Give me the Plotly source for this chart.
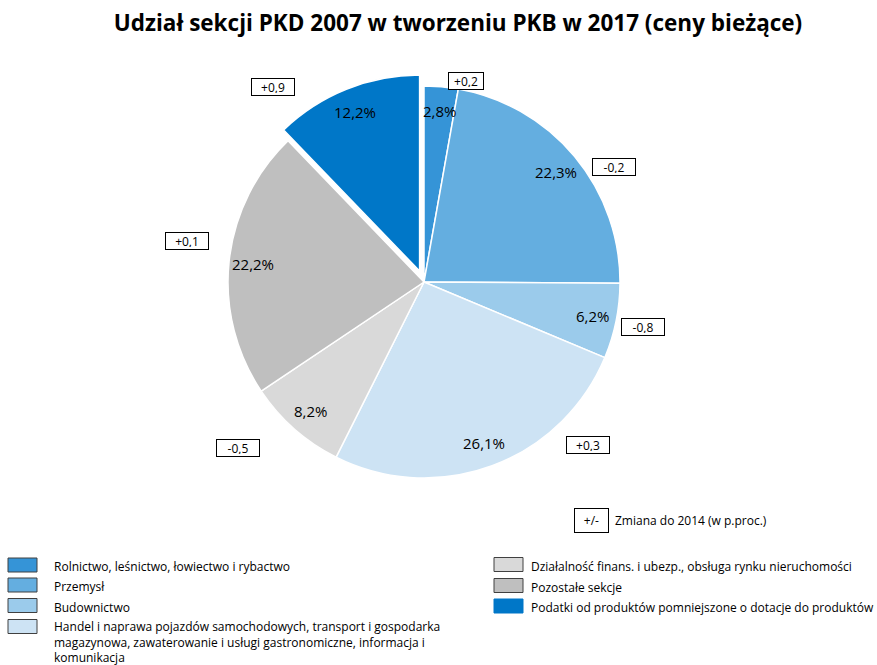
import math
import plotly.graph_objects as go

categories = [
    "Rolnictwo, leśnictwo, łowiectwo i rybactwo",
    "Przemysł",
    "Budownictwo",
    "Handel i naprawa pojazdów samochodowych, transport i gospodarka<br>magazynowa, zawaterowanie i usługi gastronomiczne, informacja i<br>komunikacja",
    "Działalność finans. i ubezp., obsługa rynku nieruchomości",
    "Pozostałe sekcje",
    "Podatki od produktów pomniejszone o dotacje do produktów",
]
shares = [2.8, 22.3, 6.2, 26.1, 8.2, 22.2, 12.2]
changes = ["+0,2", "-0,2", "-0,8", "+0,3", "-0,5", "+0,1", "+0,9"]
colors = ["#3594d7", "#64aee0", "#9bcbeb", "#cde3f4", "#d9d9d9", "#bfbfbf", "#0077c8"]
pulls = [0, 0, 0, 0, 0, 0, 0.06]

W, H = 877, 665
FONT = "Open Sans"

# pie geometry (pixels from top-left)
CX, CY, R = 424, 282, 196
RD = R * (1 + max(pulls))

labels_txt = [f"{v:.1f}%".replace(".", ",") for v in shares]

fig = go.Figure(go.Pie(
    values=shares,
    labels=categories,
    textinfo="none",
    marker=dict(colors=colors, line=dict(color="white", width=1.5)),
    sort=False,
    direction="clockwise",
    rotation=0,
    pull=pulls,
    showlegend=False,
    hoverinfo="skip",
    domain=dict(x=[(CX - RD) / W, (CX + RD) / W], y=[1 - (CY + RD) / H, 1 - (CY - RD) / H]),
))

shapes = []
annotations = []

# percentage labels, placed near the outer end of each slice
total = sum(shares)
cum = 0.0
for v, txt, p in zip(shares, labels_txt, pulls):
    mid = (cum + v / 2) / total * 2 * math.pi
    cum += v
    rr = R * 0.875 + p * R
    lx = CX + rr * math.sin(mid)
    ly = CY - rr * math.cos(mid)
    annotations.append(dict(
        x=lx / W, y=1 - ly / H, xref="paper", yref="paper", text=txt, showarrow=False,
        font=dict(family=FONT, size=15, color="#000"), xanchor="center", yanchor="middle",
    ))

# change boxes
change_pos = [(465.5, 81), (614, 167), (642.5, 327.5), (587.5, 445), (238, 448), (186.5, 241), (272.5, 87.5)]
change_w = [30, 38, 38, 38, 38, 38, 38]
for (cx, cy), txt, bw in zip(change_pos, changes, change_w):
    annotations.append(dict(
        x=cx / W, y=1 - cy / H, xref="paper", yref="paper", text=txt, showarrow=False,
        font=dict(family=FONT, size=12, color="#000"),
        bordercolor="#000", borderwidth=1, borderpad=2, bgcolor="white",
        width=bw, height=12, xanchor="center", yanchor="middle",
    ))

# +/- key
annotations.append(dict(
    x=591 / W, y=1 - 520 / H, xref="paper", yref="paper", text="+/-", showarrow=False,
    font=dict(family=FONT, size=12, color="#000"),
    bordercolor="#000", borderwidth=1, borderpad=2, width=29, height=19,
    xanchor="center", yanchor="middle",
))
annotations.append(dict(
    x=613 / W, y=1 - 520 / H, xref="paper", yref="paper", text="Zmiana do 2014 (w p.proc.)",
    showarrow=False, font=dict(family=FONT, size=12, color="#000"),
    xanchor="left", yanchor="middle",
))

# legend
left_y = [565, 585, 605.5, 626.5]
right_y = [564.5, 585.5, 606]
items = [(8, 37, 52, y) for y in left_y] + [(494, 523, 529, y) for y in right_y]
for i, (x0, x1, tx, y) in enumerate(items):
    shapes.append(dict(
        type="rect", xref="paper", yref="paper",
        x0=x0 / W, x1=x1 / W, y0=1 - (y - 7) / H, y1=1 - (y + 7) / H,
        fillcolor=colors[i],
        line=dict(color="#404040" if i < 6 else colors[i], width=1),
    ))
    annotations.append(dict(
        x=tx / W, y=1 - (y - (11 if i == 3 else 9)) / H, xref="paper", yref="paper", text=categories[i],
        showarrow=False, align="left", xanchor="left", yanchor="top",
        font=dict(family=FONT, size=12, color="#000"),
    ))

fig.update_layout(
    width=W, height=H,
    margin=dict(l=0, r=0, t=0, b=0),
    paper_bgcolor="white",
    title=dict(
        text="<b>Udział sekcji PKD 2007 w tworzeniu PKB w 2017 (ceny bieżące)</b>",
        x=458 / W, xanchor="center", y=1 - 23 / H, yanchor="middle",
        font=dict(family=FONT, size=22.5, color="#000"),
    ),
    shapes=shapes,
    annotations=annotations,
)

fig.write_html("out.html", config={"displayModeBar": False},
               post_script="document.body.style.margin='0';")
